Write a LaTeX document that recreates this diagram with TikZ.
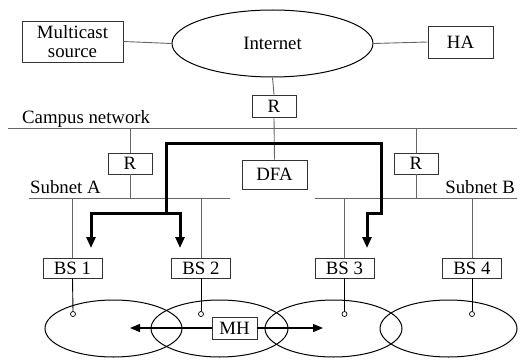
\documentclass[tikz,border=0pt]{standalone}
\usepackage{fontspec}
\setmainfont{Liberation Serif}
\usetikzlibrary{shapes.geometric,arrows.meta,calc}
\definecolor{linegray}{gray}{0.4}
\definecolor{boxgray}{gray}{0.2}
\begin{document}
\begin{tikzpicture}[x=1pt,y=-1pt,
  every node/.style={font=\fontsize{18.8}{19}\selectfont},
  box/.style={draw=boxgray, line width=0.9pt, inner sep=0pt},
  thin/.style={draw=linegray, line width=0.9pt},
  thk/.style={line width=3pt, line join=miter},
  arr/.style={-{Triangle[length=11pt,width=9pt]}},
  marr/.style={line width=1.2pt, -{Triangle[length=10pt,width=8pt]}},
  cell/.style={draw, line width=1pt, ellipse, minimum width=137pt, minimum height=57pt, inner sep=0pt},
  dot/.style={draw, circle, fill=white, line width=0.7pt, inner sep=0pt, minimum size=5pt}]
\useasboundingbox (0,0) rectangle (525,361);
% top
\node[box, minimum width=101pt, minimum height=41pt, align=center] (ms) at (72.5,41.5) {Multicast\\source};
\node[draw, line width=1pt, ellipse, minimum width=201pt, minimum height=67pt, inner sep=0pt] (inet) at (272.5,43.5) {Internet};
\node[box, minimum width=65pt, minimum height=32pt] (ha) at (460.5,42) {HA};
\node[box, minimum width=44pt, minimum height=22pt] (r0) at (274,106) {R};
\draw[thin] (ms.east) -- (inet.west);
\draw[thin] (inet.east) -- (ha.west);
\draw[thin] (inet.south) -- (r0.north);
% campus
\coordinate (cL) at (8,128);
\coordinate (cR) at (517,128);
\draw[thin] (cL) -- (cR);
\node[anchor=base west, inner sep=0pt] (campus) at (22,123) {Campus network};
\node[box, minimum width=44pt, minimum height=21pt] (ra) at (130,163.5) {R};
\node[box, minimum width=65pt, minimum height=29pt] (dfa) at (274.5,174.5) {DFA};
\node[box, minimum width=44pt, minimum height=21pt] (rb) at (416,163.5) {R};
\draw[thin] (r0.south) -- (dfa.north);
% subnets
\coordinate (saL) at (29,198);
\coordinate (saR) at (230,198);
\coordinate (sbL) at (315,198);
\coordinate (sbR) at (517,198);
\draw[thin] (saL) -- (saR);
\draw[thin] (sbL) -- (sbR);
\node[anchor=base west, inner sep=0pt] (suba) at (30,193) {Subnet A};
\node[anchor=base east, inner sep=0pt] (subb) at (515,193) {Subnet B};
\draw[thin] (ra.north) -- (ra.north |- cL);
\draw[thin] (ra.south) -- (ra.south |- saL);
\draw[thin] (rb.north) -- (rb.north |- cL);
\draw[thin] (rb.south) -- (rb.south |- sbL);
% base stations
\node[box, minimum width=59pt, minimum height=20pt] (bs1) at (72.5,268) {BS 1};
\node[box, minimum width=59pt, minimum height=20pt] (bs2) at (201,268) {BS 2};
\node[box, minimum width=59pt, minimum height=20pt] (bs3) at (344.5,268) {BS 3};
\node[box, minimum width=59pt, minimum height=20pt] (bs4) at (472,268) {BS 4};
\draw[thin] (bs1.north) -- (bs1.north |- saL);
\draw[thin] (bs2.north) -- (bs2.north |- saL);
\draw[thin] (bs3.north) -- (bs3.north |- sbL);
\draw[thin] (bs4.north) -- (bs4.north |- sbL);
% cells
\node[cell] (e1) at (113.5,328.5) {};
\node[cell] (e2) at (219.5,328.5) {};
\node[cell] (e3) at (333.5,328.5) {};
\node[cell] (e4) at (448.5,328.5) {};
\node[dot] (d1) at (73,314) {};
\node[dot] (d2) at (201,314) {};
\node[dot] (d3) at (344.5,314) {};
\node[dot] (d4) at (472,314) {};
\draw[thin, draw=black] (bs1.south) -- (d1.north);
\draw[thin, draw=black] (bs2.south) -- (d2.north);
\draw[thin, draw=black] (bs3.south) -- (d3.north);
\draw[thin, draw=black] (bs4.south) -- (d4.north);
% mobile host
\node[box, fill=white, minimum width=45pt, minimum height=22pt] (mh) at (234.5,328) {MH};
\coordinate (mL) at (130,328);
\coordinate (mR) at (323,328);
\draw[marr] (mh.west) -- (mL);
\draw[marr] (mh.east) -- (mR);
% multicast tree
\coordinate (tL) at (166,143);
\coordinate (tR) at (381,143);
\coordinate (jL) at (166,213);
\coordinate (jR) at (381,213);
\coordinate (a1) at (91,248);
\coordinate (a2) at (180,248);
\coordinate (a3) at (367,248);
\draw[thk, arr] (jL) -- (tL) -- (tR) -- (jR) -| (a3);
\draw[thk, arr, line cap=rect] (jL) -| (a1);
\draw[thk, arr, line cap=rect] (jL) -| (a2);
\end{tikzpicture}
\end{document}
